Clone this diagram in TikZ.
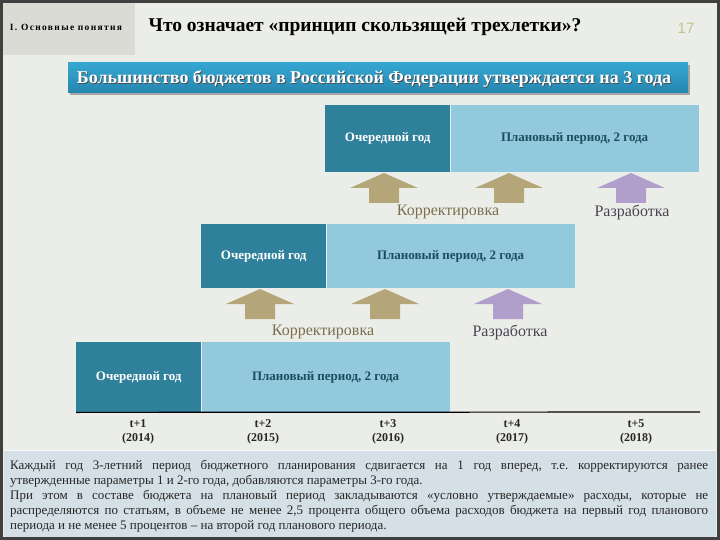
\documentclass[tikz,border=0pt]{standalone}
\usepackage{fontspec}
\setmainfont{Liberation Serif}
\newfontfamily\numfont{Liberation Sans}
\newfontfamily\hdrfont[LetterSpace=14]{Liberation Serif}
\usepackage{xcolor}
\usepackage{tikz}
\usetikzlibrary{arrows.meta}

\definecolor{bgcol}{HTML}{EBEDE8}
\definecolor{hdrcol}{HTML}{DADBD5}
\definecolor{bannertop}{HTML}{35A6D0}
\definecolor{bannerbot}{HTML}{2587B0}
\definecolor{curblue}{HTML}{2F809B}
\definecolor{planblue}{HTML}{92C9DD}
\definecolor{korrcol}{HTML}{B5A67A}
\definecolor{razrcol}{HTML}{B09FCB}
\definecolor{korrtext}{HTML}{7B6F4E}
\definecolor{razrtext}{HTML}{4A4452}
\definecolor{notecol}{HTML}{D5E0E6}

\tikzset{
  curyear/.style={fill=curblue, text=white, inner sep=0, anchor=north west,
    minimum width=125pt, font=\fontsize{13}{15}\selectfont\bfseries},
  planyear/.style={fill=planblue, text=curblue!60!black, inner sep=0, anchor=north west,
    minimum width=248pt, font=\fontsize{13}{15}\selectfont\bfseries},
  actlabel/.style={font=\fontsize{16}{18}\selectfont},
  yearlabel/.style={align=center, font=\fontsize{12}{14}\selectfont\bfseries, text=black!85}
}

\begin{document}
\frenchspacing
\begin{tikzpicture}[x=1pt,y=-1pt]
      \useasboundingbox (0,0) rectangle (720,540);
      \fill[bgcol] (0,0) rectangle (720,540);
      \fill[hdrcol] (0,0) rectangle (135,55);
      \draw[black!75,line width=3pt] (1.5,1.5) rectangle (718.5,538.5);
      % header
      \node (chapter) at (66,27) {\hdrfont\fontsize{9.5}{10}\selectfont\bfseries I. Основные понятия};
      \node (title) at (365,27) {\fontsize{19.5}{22}\selectfont\bfseries Что означает «принцип скользящей трехлетки»?};
      \node (pagenum) at (686,28) [text=black!30!olive!40] {\numfont\fontsize{15}{17}\selectfont 17};
      % banner
      \fill[black!35] (70,65) rectangle (690,95);
      \shade[top color=bannertop,bottom color=bannerbot] (68,63) rectangle (688,93);
      \node (bannershadow) at (374.8,79.8) [text=black!70] {\fontsize{18}{20}\selectfont\bfseries Большинство бюджетов в Российской Федерации утверждается на 3 года};
      \node (banner) at (374,79) [text=white] {\fontsize{18}{20}\selectfont\bfseries Большинство бюджетов в Российской Федерации утверждается на 3 года};

      % first window
      \node[curyear, minimum height=67pt] (cur1) at (325,105) {Очередной год};
      \node[planyear, minimum height=67pt] (plan1) at (cur1.north east) {Плановый период, 2 года};
      % second window
      \node[curyear, minimum height=64pt] (cur2) at (201,224) {Очередной год};
      \node[planyear, minimum height=64pt] (plan2) at (cur2.north east) {Плановый период, 2 года};
      % third window
      \node[curyear, minimum height=70pt] (cur3) at (76,342) {Очередной год};
      \node[planyear, minimum height=70pt] (plan3) at (cur3.north east) {Плановый период, 2 года};

      % arrows under the windows
      \foreach \cx/\ty/\col in {384/173/korrcol, 509/173/korrcol, 631/173/razrcol,
                                260/289/korrcol, 385/289/korrcol, 508/289/razrcol}
        \fill[\col] (\cx,\ty) -- ({\cx+34},{\ty+15}) -- ({\cx+15},{\ty+15}) -- ({\cx+15},{\ty+30})
          -- ({\cx-15},{\ty+30}) -- ({\cx-15},{\ty+15}) -- ({\cx-34},{\ty+15}) -- cycle;
      \node[actlabel, text=korrtext] (korr1) at (448,212) {Корректировка};
      \node[actlabel, text=razrtext] (razr1) at (632,212) {Разработка};
      \node[actlabel, text=korrtext] (korr2) at (323,332) {Корректировка};
      \node[actlabel, text=razrtext] (razr2) at (510,332) {Разработка};

      % time axis
      \coordinate (axisend) at (700,412);
      \draw[black, line width=1.2pt] (cur3.south west) -- (axisend);
      \node[yearlabel] (t1) at (138,432) {t+1\\(2014)};
      \node[yearlabel] (t2) at (263,432) {t+2\\(2015)};
      \node[yearlabel] (t3) at (388,432) {t+3\\(2016)};
      \node[yearlabel] (t4) at (512,432) {t+4\\(2017)};
      \node[yearlabel] (t5) at (636,432) {t+5\\(2018)};

      % note
      \fill[notecol] (4,450) rectangle (716,537);
      \draw[white!80!notecol, line width=1pt] (4,450.5) -- (716,450.5);
      \node (note) at (10,460) [anchor=north west, inner sep=0, text width=698pt, align=justify,
        text=black!85, font=\fontsize{13}{15}\selectfont]
        {Каждый год 3-летний период бюджетного планирования сдвигается на 1 год вперед, т.е. корректируются ранее\linebreak
        утвержденные параметры 1 и 2-го года, добавляются параметры 3-го года.\\
        При этом в составе бюджета на плановый период закладываются «условно утверждаемые» расходы, которые не\linebreak
        распределяются по статьям, в объеме не менее 2,5 процента общего объема расходов бюджета на первый год планового\linebreak
        периода и не менее 5 процентов – на второй год планового периода.};
\end{tikzpicture}
\end{document}
